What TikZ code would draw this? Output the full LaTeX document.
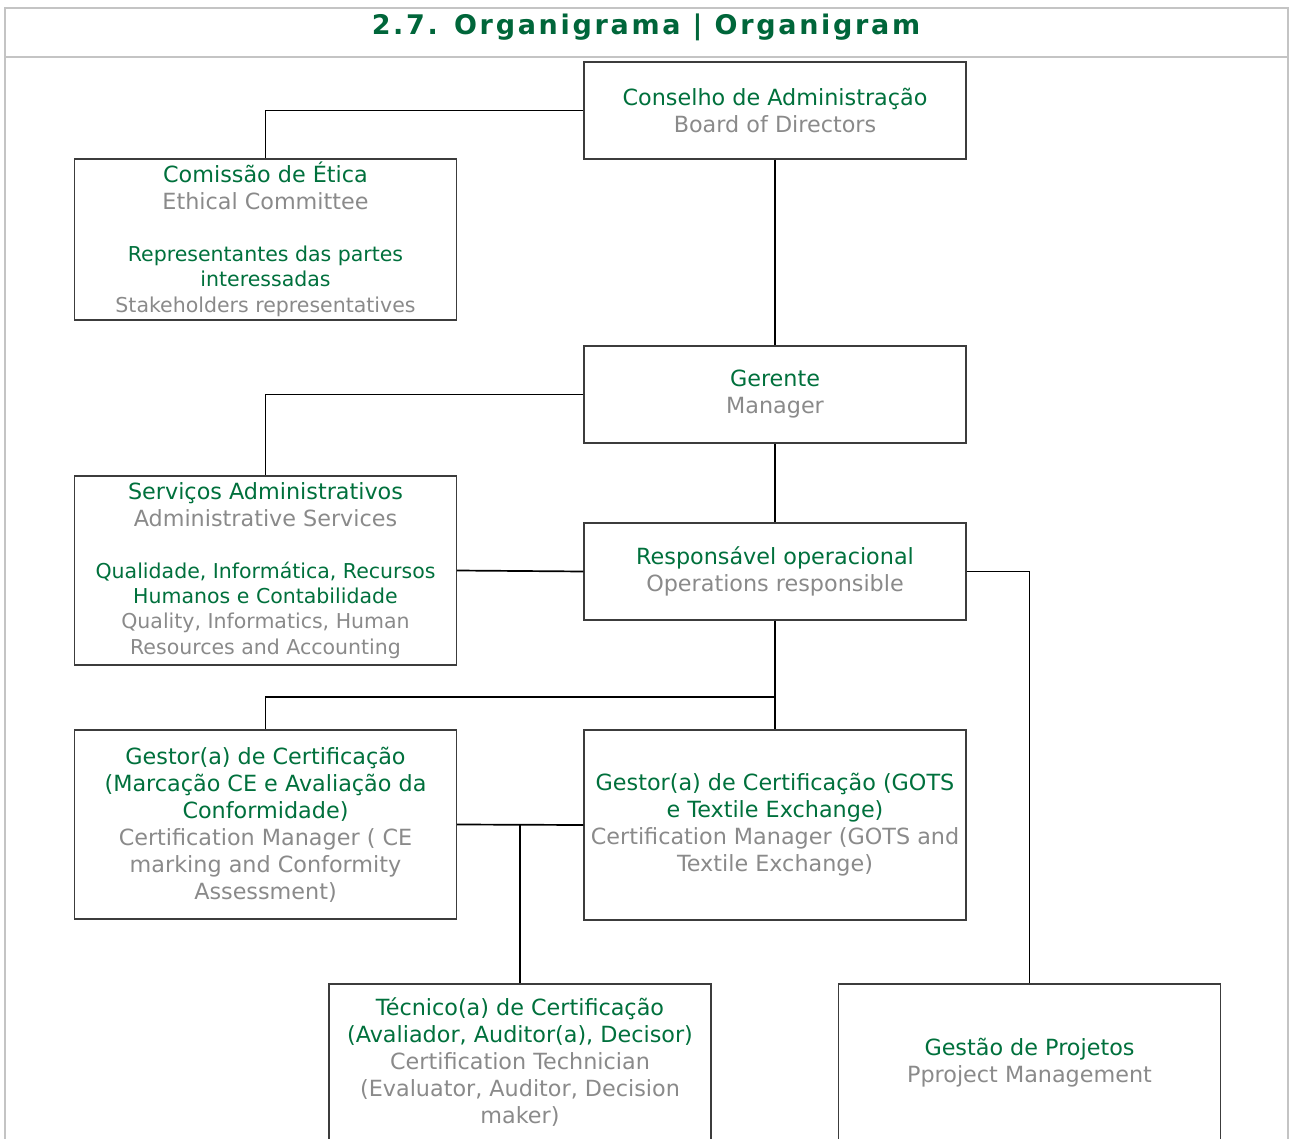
\documentclass[tikz,border=0pt]{standalone}
\usepackage{fontspec}
\setmainfont{DejaVu Sans}
\newfontfamily\titlefont[LetterSpace=10]{DejaVu Sans}
\definecolor{titlegreen}{HTML}{00663A}
\definecolor{orggreen}{HTML}{00703C}
\definecolor{orggray}{HTML}{8A8A8A}
\definecolor{boxgray}{HTML}{3C3C3C}
\definecolor{framegray}{HTML}{C4C4C4}
\newcommand{\mainsize}{\fontsize{22.3}{27}\selectfont}
\newcommand{\smallsize}{\fontsize{20.5}{25}\selectfont}
\newcommand{\pttxt}[1]{\textcolor{orggreen}{#1}}
\newcommand{\entxt}[1]{\textcolor{orggray}{#1}}

\begin{document}
\begin{tikzpicture}[x=1pt,y=-1pt,
	orgbox/.style={draw=boxgray,line width=1.2pt,minimum width=382pt,inner sep=0pt,align=center,font=\mainsize},
	link/.style={draw=black,line width=1.7pt}]
	\clip (0,0) rectangle (1290,1139);
	% frame and title
	\draw[framegray,line width=2pt] (5,8) rectangle (1288,1170);
	\draw[framegray,line width=2pt] (5,57) -- (1288,57);
	\node[font=\titlefont\bfseries\fontsize{27}{30}\selectfont,text=titlegreen] (title) at (646,27.5) {2.7. Organigrama | Organigram};
	% boxes
	\node[orgbox,minimum height=97pt] (board) at (775,110.5)
		{\pttxt{Conselho de Administração}\\\entxt{Board of Directors}};
	\node[orgbox,minimum height=161pt] (ethics) at (265.5,239.5)
		{\pttxt{Comissão de Ética}\\\entxt{Ethical Committee}\\[25pt]
		\smallsize\pttxt{Representantes das partes}\\[-2pt]\smallsize\pttxt{interessadas}\\[-1pt]\smallsize\entxt{Stakeholders representatives}};
	\node[orgbox,minimum height=97pt] (manager) at (775,394.5)
		{\pttxt{Gerente}\\\entxt{Manager}};
	\node[orgbox,minimum height=189pt] (admin) at (265.5,570.5)
		{\pttxt{Serviços Administrativos}\\\entxt{Administrative Services}\\[25pt]
		\smallsize\pttxt{Qualidade, Informática, Recursos}\\[-2pt]\smallsize\pttxt{Humanos e Contabilidade}\\[-2pt]
		\smallsize\entxt{Quality, Informatics, Human}\\[-1pt]\smallsize\entxt{Resources and Accounting}};
	\node[orgbox,minimum height=97pt] (ops) at (775,571.5)
		{\pttxt{Responsável operacional}\\\entxt{Operations responsible}};
	\node[orgbox,minimum height=189pt] (cemgr) at (265.5,824.5)
		{\pttxt{Gestor(a) de Certificação}\\\pttxt{(Marcação CE e Avaliação da}\\\pttxt{Conformidade)}\\
		\entxt{Certification Manager ( CE}\\\entxt{marking and Conformity}\\\entxt{Assessment)}};
	\node[orgbox,minimum height=190pt] (gotsmgr) at (775,825)
		{\pttxt{Gestor(a) de Certificação (GOTS}\\\pttxt{e Textile Exchange)}\\
		\entxt{Certification Manager (GOTS and}\\\entxt{Textile Exchange)}};
	\node[orgbox,minimum height=157pt] (tech) at (520,1062.5)
		{\pttxt{Técnico(a) de Certificação}\\\pttxt{(Avaliador, Auditor(a), Decisor)}\\
		\entxt{Certification Technician}\\\entxt{(Evaluator, Auditor, Decision}\\\entxt{maker)}};
	\node[orgbox,minimum height=157pt] (projects) at (1029.5,1062.5)
		{\pttxt{Gestão de Projetos}\\\entxt{Pproject Management}};
	% connectors
	\draw[link] (board.west) -| (ethics.north);
	\draw[link] (board.south) -- (manager.north);
	\draw[link] (manager.west) -| (admin.north);
	\draw[link] (manager.south) -- (ops.north);
	\draw[link] (admin.east) -- (ops.west);
	\draw[link] (ops.east) -| (projects.north);
	\coordinate (split) at (775,697);
	\draw[link] (ops.south) -- (split) -| (cemgr.north);
	\draw[link] (split) -- (gotsmgr.north);
	\draw[link] (cemgr.east) -- (gotsmgr.west);
	\draw[link] (tech.north) -- (tech.north |- cemgr.east);
\end{tikzpicture}
\end{document}
